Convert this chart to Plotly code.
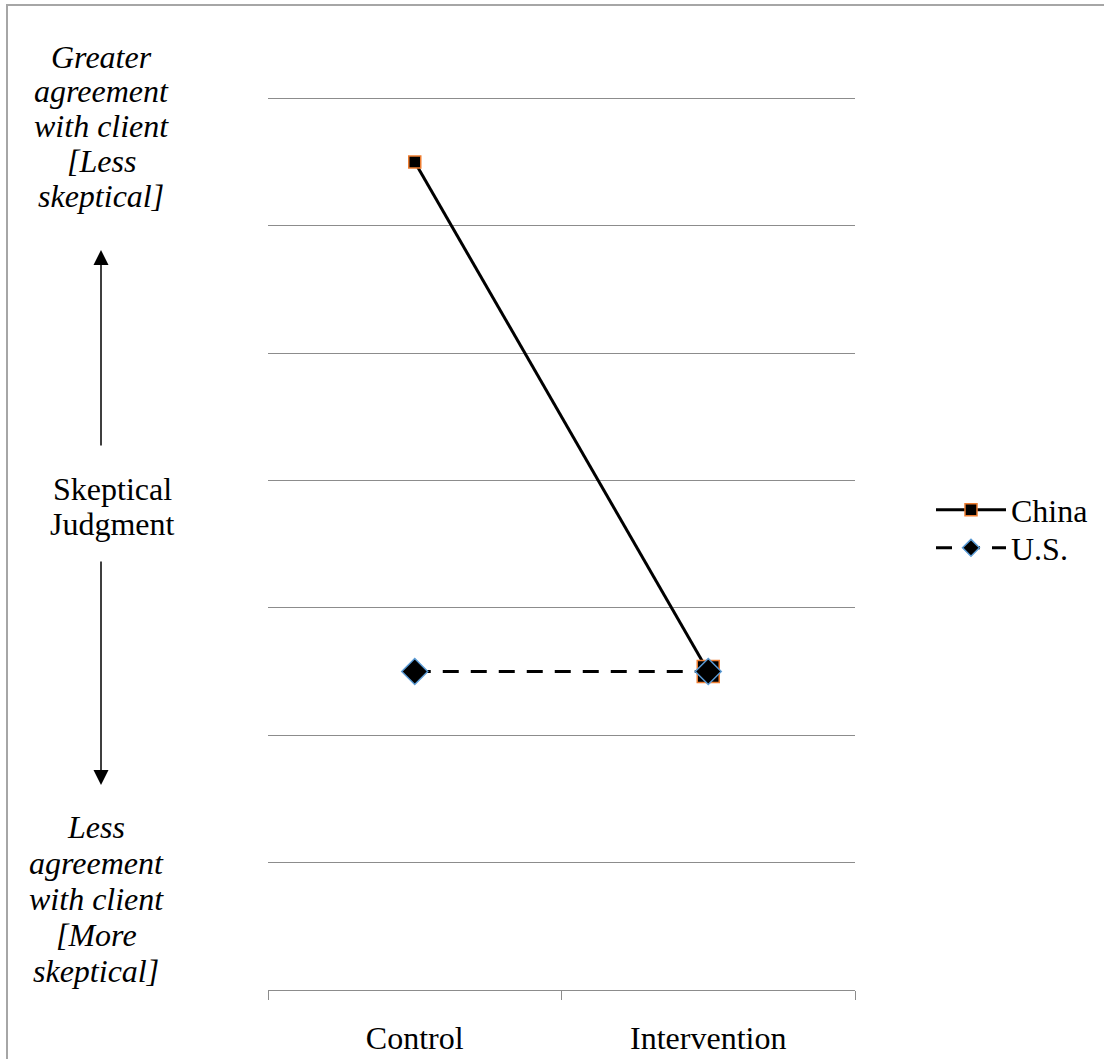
import plotly.graph_objects as go

# Conditions on the x axis and mean skeptical-judgment scores per group
conditions = ["Control", "Intervention"]
china_scores = [6.5, 2.5]
us_scores = [2.5, 2.5]

# Side labels, one entry per text line
upper_lines = ["Greater", "agreement", "with client", "[Less", "skeptical]"]
middle_lines = ["Skeptical", "Judgment"]
lower_lines = ["Less", "agreement", "with client", "[More", "skeptical]"]

# Figure geometry (pixels) used to place the side labels
W, H = 1104, 1059
L, R, T, B = 268, 249, 97, 69
PW, PH = W - L - R, H - T - B


def px(x):
    return (x - L) / PW


def py(y):
    return (H - B - y) / PH


SERIF = "'Liberation Serif', 'Times New Roman', Times, serif"
FS = 32
GRID = "#8C8C8C"
ORANGE = "#ED7D31"
BLUE = "#5B9BD5"
DASH = "16px,12px"

fig = go.Figure()

# China: solid line, black squares with orange rims
fig.add_trace(go.Scatter(
    x=conditions, y=china_scores, mode="lines+markers", name="China",
    line=dict(color="black", width=3),
    marker=dict(symbol="square", color="black", size=[12, 22], opacity=1,
                line=dict(color=ORANGE, width=1.5)),
    showlegend=False,
))
# U.S.: dashed line, black diamonds with blue rims
fig.add_trace(go.Scatter(
    x=conditions, y=us_scores, mode="lines+markers", name="U.S.",
    line=dict(color="black", width=3, dash=DASH),
    marker=dict(symbol="diamond", color="black", size=[20, 20], opacity=1,
                line=dict(color=BLUE, width=1.5)),
    showlegend=False,
))

# Legend entries (each in its own legend box so the rows sit where wanted)
fig.add_trace(go.Scatter(
    x=[None], y=[None], mode="lines+markers", name="China", legend="legend",
    line=dict(color="black", width=3),
    marker=dict(symbol="square", color="black", size=12, opacity=1,
                line=dict(color=ORANGE, width=1.5)),
))
fig.add_trace(go.Scatter(
    x=[None], y=[None], mode="lines+markers", name="U.S.", legend="legend2",
    line=dict(color="black", width=3, dash=DASH),
    marker=dict(symbol="diamond", color="black", size=13, opacity=1,
                line=dict(color=BLUE, width=1.5)),
))

annotations = []


def add_lines(lines, cx, baselines, italic):
    for text, base in zip(lines, baselines):
        annotations.append(dict(
            text=f"<i>{text}</i>" if italic else text,
            x=px(cx), y=py(base - 11), xref="paper", yref="paper",
            showarrow=False, xanchor="center", yanchor="middle",
            font=dict(family=SERIF, size=FS, color="black"),
        ))


add_lines(upper_lines, 101, [68, 102.5, 137, 172, 207], True)
add_lines(middle_lines, 112, [500, 535], False)
add_lines(lower_lines, 96, [838, 874, 910, 946, 982], True)

# Direction arrows on the left
annotations.append(dict(
    x=px(101), y=py(250), xref="paper", yref="paper", text="",
    showarrow=True, axref="pixel", ayref="pixel", ax=0, ay=197,
    arrowhead=2, arrowsize=2, arrowwidth=1.5, arrowcolor="black",
))
annotations.append(dict(
    x=px(101), y=py(785), xref="paper", yref="paper", text="",
    showarrow=True, axref="pixel", ayref="pixel", ax=0, ay=-225,
    arrowhead=2, arrowsize=2, arrowwidth=1.5, arrowcolor="black",
))

legend_style = dict(xanchor="left", yanchor="middle", x=px(931),
                    font=dict(family=SERIF, size=FS, color="black"),
                    bgcolor="rgba(0,0,0,0)", itemwidth=70)

fig.update_layout(
    width=W, height=H,
    margin=dict(l=L, r=R, t=T, b=B, autoexpand=False),
    paper_bgcolor="white", plot_bgcolor="white",
    font=dict(family=SERIF, color="black", size=FS),
    annotations=annotations,
    shapes=[dict(type="rect", xref="paper", yref="paper",
                 x0=px(7), x1=px(W + 20), y0=py(H + 20), y1=py(5),
                 line=dict(color="#A6A6A6", width=2), layer="below")],
    legend=dict(y=py(510), **legend_style),
    legend2=dict(y=py(548), **legend_style),
    xaxis=dict(
        type="category", range=[-0.5, 1.5], automargin=False,
        showline=True, linecolor=GRID, linewidth=1,
        ticks="outside", tickson="boundaries", ticklen=9, tickcolor=GRID,
        showgrid=False, zeroline=False, ticklabelstandoff=20,
        tickfont=dict(family=SERIF, size=FS, color="black"),
    ),
    yaxis=dict(
        range=[0, 7.01], dtick=1, tick0=0, automargin=False,
        showgrid=True, gridcolor=GRID, gridwidth=1,
        showticklabels=False, zeroline=False, showline=False, ticks="",
    ),
)

fig.write_html("out.html")
